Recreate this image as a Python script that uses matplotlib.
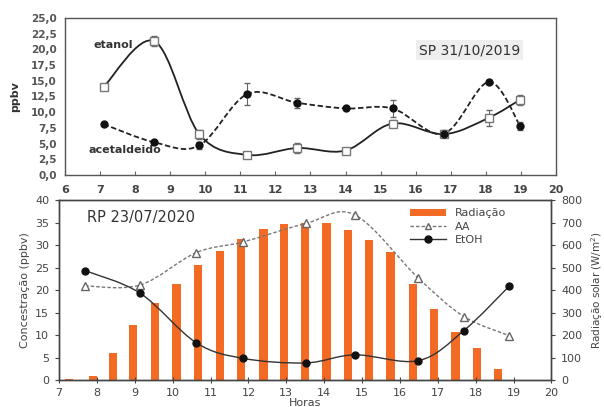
import numpy as np
import matplotlib
matplotlib.use("Agg")
import matplotlib.pyplot as plt
from matplotlib.path import Path
from matplotlib.patches import PathPatch, Patch
from matplotlib.lines import Line2D
from matplotlib.ticker import FuncFormatter

# SP 31/10/2019 campaign
sp_horas = [7.1, 8.55, 9.83, 11.2, 12.62, 14.0, 15.34, 16.8, 18.08, 18.98]
sp_etanol = [14.0, 21.3, 6.5, 3.2, 4.3, 3.9, 8.2, 6.5, 9.1, 12.0]
sp_etanol_err = [0.3, 0.8, 0.7, 0.3, 0.8, 0.2, 0.6, 0.5, 1.3, 0.8]
sp_acet = [8.1, 5.2, 4.7, 12.9, 11.5, 10.6, 10.6, 6.6, 14.8, 7.8]
sp_acet_err = [0.2, 0.2, 0.5, 1.8, 0.8, 0.2, 1.4, 0.6, 0.3, 0.6]

# RP 23/07/2020 campaign
rad_horas = [7.26, 7.89, 8.43, 8.96, 9.53, 10.1, 10.67, 11.25, 11.8, 12.4, 12.94,
             13.49, 14.06, 14.63, 15.19, 15.75, 16.35, 16.9, 17.47, 18.03, 18.59]
radiacao = [5, 20, 120, 245, 344, 427, 510, 573, 628, 670, 692,
            699, 696, 667, 622, 570, 427, 316, 212, 142, 48]
rp_horas = [7.69, 9.14, 10.62, 11.87, 13.52, 14.81, 16.49, 17.69, 18.89]
rp_aa = [20.9, 21.1, 28.3, 30.7, 34.8, 36.7, 22.6, 14.1, 9.85]
rp_etoh = [24.3, 19.3, 8.3, 4.8, 3.8, 5.6, 4.3, 11.0, 20.9]


def smooth_path(x, y):
    # bezier curve through the points, like a spreadsheet "smoothed line"
    p = np.column_stack([x, y]).astype(float)
    pts = np.vstack([p[0], p, p[-1]])
    verts = [p[0]]
    codes = [Path.MOVETO]
    for i in range(1, len(pts) - 2):
        c1 = pts[i] + (pts[i + 1] - pts[i - 1]) / 6.0
        c2 = pts[i + 1] - (pts[i + 2] - pts[i]) / 6.0
        verts += [c1, c2, pts[i + 1]]
        codes += [Path.CURVE4] * 3
    return Path(verts, codes)


def draw_smooth(ax, x, y, **kw):
    patch = PathPatch(smooth_path(x, y), facecolor="none", **kw)
    ax.add_patch(patch)
    return patch


fig = plt.figure(figsize=(6.04, 4.07), dpi=100)
txt = "#444444"

# ---- top panel ----
ax1 = fig.add_axes([0.1076, 0.570, 0.8129, 0.3858])
draw_smooth(ax1, sp_horas, sp_etanol, edgecolor="#222222", lw=1.3, zorder=2)
draw_smooth(ax1, sp_horas, sp_acet, edgecolor="#222222", lw=1.3, ls=(0, (3, 1.5)), zorder=2)
ax1.errorbar(sp_horas, sp_etanol, yerr=sp_etanol_err, fmt="s", ms=5.5, mfc="white",
             mec="#777777", mew=1, ecolor="#666666", elinewidth=0.8, capsize=2.5, zorder=3)
ax1.errorbar(sp_horas, sp_acet, yerr=sp_acet_err, fmt="o", ms=5, mfc="#111111",
             mec="#111111", ecolor="#666666", elinewidth=0.8, capsize=2.5, zorder=3)
ax1.set_xlim(6, 20)
ax1.set_ylim(0, 25)
ax1.set_xticks(range(6, 21))
ax1.set_yticks(np.arange(0, 25.1, 2.5))
ax1.yaxis.set_major_formatter(FuncFormatter(lambda v, p: f"{v:.1f}".replace(".", ",")))
ax1.tick_params(axis="x", direction="in", length=3, color="#666666", labelsize=8,
                labelcolor=txt, pad=7)
ax1.tick_params(axis="y", length=0, labelsize=7.5, labelcolor="#555555", pad=6)
for lab in ax1.get_xticklabels() + ax1.get_yticklabels():
    lab.set_fontweight("bold")
for s in ax1.spines.values():
    s.set_color("#555555")
    s.set_linewidth(1)
ax1.set_ylabel("ppbv", fontsize=8, fontweight="bold", color="#333333", labelpad=8)
ax1.text(6.8, 20.7, "etanol", fontsize=8, fontweight="bold", color="#333333", va="center")
ax1.text(6.66, 4.0, "acetaldeido", fontsize=8, fontweight="bold", color="#333333", va="center")
ax1.text(16.1, 19.9, "SP 31/10/2019", fontsize=10, color="#333333", va="center",
         bbox=dict(facecolor="#eeeeee", edgecolor="none", pad=2))

# ---- bottom panel ----
ax = fig.add_axes([0.0977, 0.0663, 0.8153, 0.4423])
ax2 = ax.twinx()
ax2.bar(rad_horas, radiacao, width=0.22, color="#F36A24", zorder=1)
ax2.set_ylim(0, 800)
ax2.set_yticks(range(0, 801, 100))
ax.set_zorder(ax2.get_zorder() + 1)
ax.patch.set_visible(False)

draw_smooth(ax, rp_horas, rp_aa, edgecolor="#777777", lw=1, ls=(0, (2.5, 1.5)), zorder=2)
draw_smooth(ax, rp_horas, rp_etoh, edgecolor="#333333", lw=1, zorder=2)
ax.plot(rp_horas, rp_aa, ls="none", marker="^", ms=5.5, mfc="white", mec="#666666", mew=1, zorder=3)
ax.plot(rp_horas, rp_etoh, ls="none", marker="o", ms=5, mfc="#111111", mec="#111111", zorder=3)
ax.set_xlim(7, 20)
ax.set_ylim(0, 40)
ax.set_xticks(range(7, 21))
ax.set_yticks(range(0, 41, 5))
ax.tick_params(axis="x", direction="inout", length=5, color="#444444", labelsize=8,
               labelcolor=txt, pad=3)
ax.tick_params(axis="y", direction="out", length=3, color="#444444", labelsize=8,
               labelcolor=txt, pad=4)
ax2.tick_params(axis="y", direction="out", length=3, color="#444444", labelsize=8,
                labelcolor=txt, pad=4)
for a in (ax, ax2):
    for s in a.spines.values():
        s.set_color("#444444")
        s.set_linewidth(1)
ax.set_ylabel("Concestração (ppbv)", fontsize=8, color=txt, labelpad=4)
ax2.set_ylabel("Radiação solar (W/m$^2$)", fontsize=7.5, color=txt)
ax2.yaxis.set_label_coords(1.077, 0.5)
ax.set_xlabel("Horas", fontsize=8, color=txt, labelpad=0)
ax.text(7.73, 36.2, "RP 23/07/2020", fontsize=10.5, color="#333333", va="center")

handles = [
    Patch(facecolor="#F36A24", edgecolor="none"),
    Line2D([], [], color="#777777", lw=1, ls=(0, (2.5, 1.5)), marker="^", ms=5,
           mfc="white", mec="#666666"),
    Line2D([], [], color="#333333", lw=1, marker="o", ms=5, mfc="#111111", mec="#111111"),
]
ax.legend(handles, ["Radiação", "AA", "EtOH"], loc="upper left", bbox_to_anchor=(0.70, 0.99),
          frameon=False, fontsize=8, labelcolor=txt, handlelength=3.2, handleheight=0.7,
          labelspacing=0.3, borderaxespad=0.2)

fig.savefig("out.png", dpi=100)
